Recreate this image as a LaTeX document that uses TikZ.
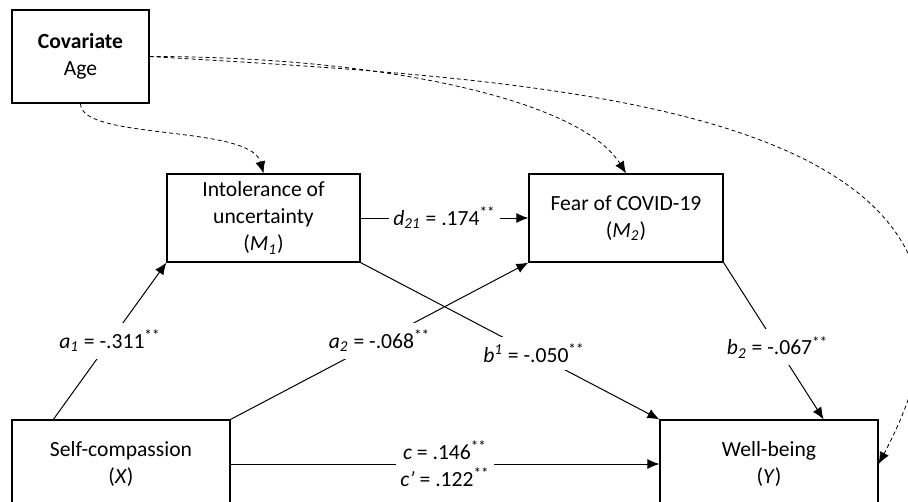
\documentclass[tikz,border=0pt]{standalone}
\usepackage{fontspec}
\setmainfont{Carlito}
\usepackage{tikz}
\usetikzlibrary{arrows.meta}
\tikzstyle{block} = [draw, rectangle, line width=0.6pt, align=center, minimum height=44pt]
\tikzstyle{arrow} = [arrows=->, black, line width=0.5pt]
\tikzstyle{covarrow} = [arrow, line width=0.4pt, dash pattern=on 2pt off 1.5pt]
\tikzstyle{coef} = [fill=white, align=center, inner xsep=2pt, inner ysep=3.5pt]
\newcommand{\sig}{\textsuperscript{**}}

\begin{document}
\begin{tikzpicture}[>={Latex[length=6pt, width=5pt]}, x=0.5pt, y=-0.5pt,
    font=\fontsize{10.8pt}{13.5pt}\selectfont]
    \useasboundingbox (0,0) rectangle (908,502);

    % Place the blocks
    \node [block, minimum width=68.5pt, minimum height=46.5pt] (covariate) at (80.5,56.5) {\textbf{Covariate}\\Age};
    \node [block, minimum width=96.5pt] (M1) at (263.5,218) {Intolerance of\\uncertainty\\(\textit{M}\textsubscript{\textit{1}})};
    \node [block, minimum width=97pt] (M2) at (626,218) {Fear of COVID-19\\(\textit{M}\textsubscript{\textit{2}})};
    \node [block, minimum width=109pt] (X) at (121,464) {Self-compassion\\(\textit{X})};
    \node [block, minimum width=109pt] (Y) at (769,464) {Well-being\\(\textit{Y})};

    % Connect the nodes
    \draw [arrow] ([xshift=21pt]X.north west) -- node[coef] (a1) {\textit{a}\textsubscript{\textit{1}} = -.311\sig} (M1.south west);
    \draw [arrow] (X.north east) -- node[coef] (a2) {\textit{a}\textsubscript{\textit{2}} = -.068\sig} (M2.south west);
    \draw [arrow] (M1.south east) -- node[coef, pos=0.58] (b1) {\textit{b}\textsuperscript{\textit{1}} = -.050\sig} (Y.north west);
    \draw [arrow] (M2.south east) -- node[coef, pos=0.54] (b2) {\textit{b}\textsubscript{\textit{2}} = -.067\sig} ([xshift=-27.5pt]Y.north east);
    \draw [arrow] (M1) -- node[coef] (d21) {\textit{d}\textsubscript{\textit{21}} = .174\sig} (M2);
    \draw [arrow] (X) -- node[coef] (c) {\textit{c} = .146\sig\\\textit{c’} = .122\sig} (Y);

    % Covariate paths
    \draw [covarrow] (covariate.south) .. controls +(0,37) and +(-13,-49) .. (M1.north);
    \draw [covarrow] (covariate.east) .. controls +(231,0) and +(-46,-74) .. (M2.north);
    \draw [covarrow] (covariate.east) .. controls +(401,24) and +(192,-363) .. (Y.east);
\end{tikzpicture}
\end{document}
